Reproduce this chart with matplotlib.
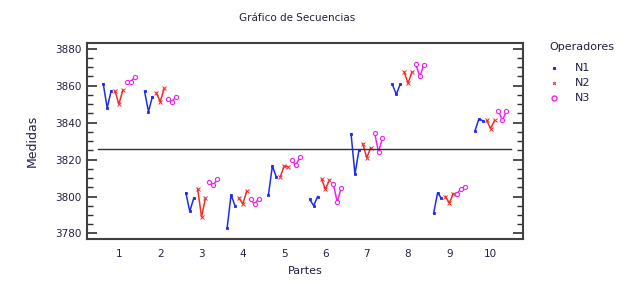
import matplotlib
matplotlib.use("Agg")
import matplotlib.pyplot as plt
from matplotlib.ticker import MultipleLocator
import numpy as np

parts = [1, 2, 3, 4, 5, 6, 7, 8, 9, 10]
operators = ["N1", "N2", "N3"]

# three repeats per part for each operator
n1 = [[3861, 3848, 3857], [3857, 3846, 3854], [3802, 3792, 3799], [3783, 3801, 3795],
      [3801, 3816.5, 3810.6], [3798.5, 3795, 3800], [3834, 3812, 3825], [3860.7, 3855.3, 3860.7],
      [3791, 3802, 3799], [3835.5, 3842, 3841]]
n2 = [[3857, 3850, 3857.6], [3856, 3851.4, 3858.5], [3804.3, 3789, 3799], [3799.2, 3796, 3803],
      [3810.6, 3816.5, 3816], [3809.4, 3804, 3808.8], [3828.6, 3821, 3826.3], [3867.4, 3861.4, 3867.4],
      [3800, 3796.5, 3801.6], [3841.2, 3836.8, 3841.2]]
n3 = [[3861.8, 3862.2, 3864.5], [3853, 3851.4, 3854], [3807.6, 3806, 3809.4], [3798.5, 3795.7, 3798.9],
      [3819.6, 3817, 3821.4], [3807, 3797.1, 3804.6], [3834.6, 3824.1, 3831.7], [3871.5, 3865, 3871],
      [3801.6, 3804.3, 3805.2], [3846.3, 3841.2, 3846.3]]

colors = ["#1f2cf0", "#f52a2a", "#f020f0"]
markers = ["s", "x", "o"]

fig = plt.figure(figsize=(6.33, 2.84), dpi=100)
ax = fig.add_axes([0.137, 0.157, 0.689, 0.693])

step = 0.095
for j, (vals, c, m) in enumerate(zip([n1, n2, n3], colors, markers)):
    for i, p in enumerate(parts):
        xs = p + (np.arange(3) + 3 * j - 4) * step
        if m == "o":
            ax.plot(xs, vals[i], color=c, lw=1.1, marker=m, ms=3, mfc="white", mec=c, mew=0.8)
        elif m == "s":
            ax.plot(xs, vals[i], color=c, lw=1.1, marker=m, ms=1.8, mew=0.6)
        else:
            ax.plot(xs, vals[i], color=c, lw=1.1, marker=m, ms=2.3, mew=0.7)

grand_mean = np.mean(np.array([n1, n2, n3]))
ax.plot([0.5, 10.5], [grand_mean, grand_mean], color="#303030", lw=1.0)

ax.set_xlim(0.22, 10.78)
ax.set_ylim(3776.8, 3883.3)
ax.set_xticks(parts)
ax.tick_params(axis="x", length=0, labelsize=7.5, pad=7, colors="#202040")
ax.yaxis.set_major_locator(MultipleLocator(20))
ax.yaxis.set_minor_locator(MultipleLocator(5))
ax.tick_params(axis="y", which="both", direction="in", left=True, right=True, labelsize=7.5,
               colors="#303030", labelcolor="#202040")
ax.tick_params(axis="y", which="major", length=7, width=1.2)
ax.tick_params(axis="y", which="minor", length=4, width=1.0)
for s in ax.spines.values():
    s.set_color("#404040")
    s.set_linewidth(1.5)

ax.set_xlabel("Partes", fontsize=8, color="#202040", labelpad=5)
ax.set_ylabel("Medidas", fontsize=9, color="#202040", labelpad=12)
fig.text(0.47, 0.935, "Gráfico de Secuencias", ha="center", va="center", fontsize=7.5, color="#202040")

# legend drawn to the right of the axes
fig.text(0.868, 0.833, "Operadores", ha="left", va="center", fontsize=8, color="#202040")
for j, (name, c, m) in enumerate(zip(operators, colors, markers)):
    yy = 0.76 - j * 0.053
    if m == "o":
        fig.lines.append(plt.Line2D([0.875], [yy], marker=m, ms=3.5, mfc="white", mec=c, mew=1.0,
                                    transform=fig.transFigure))
    else:
        fig.lines.append(plt.Line2D([0.875], [yy], marker=m, ms=2, color=c, mew=0.8,
                                    transform=fig.transFigure))
    fig.text(0.908, yy, name, ha="left", va="center", fontsize=8, color="#202040")

fig.savefig("out.png", dpi=100)
